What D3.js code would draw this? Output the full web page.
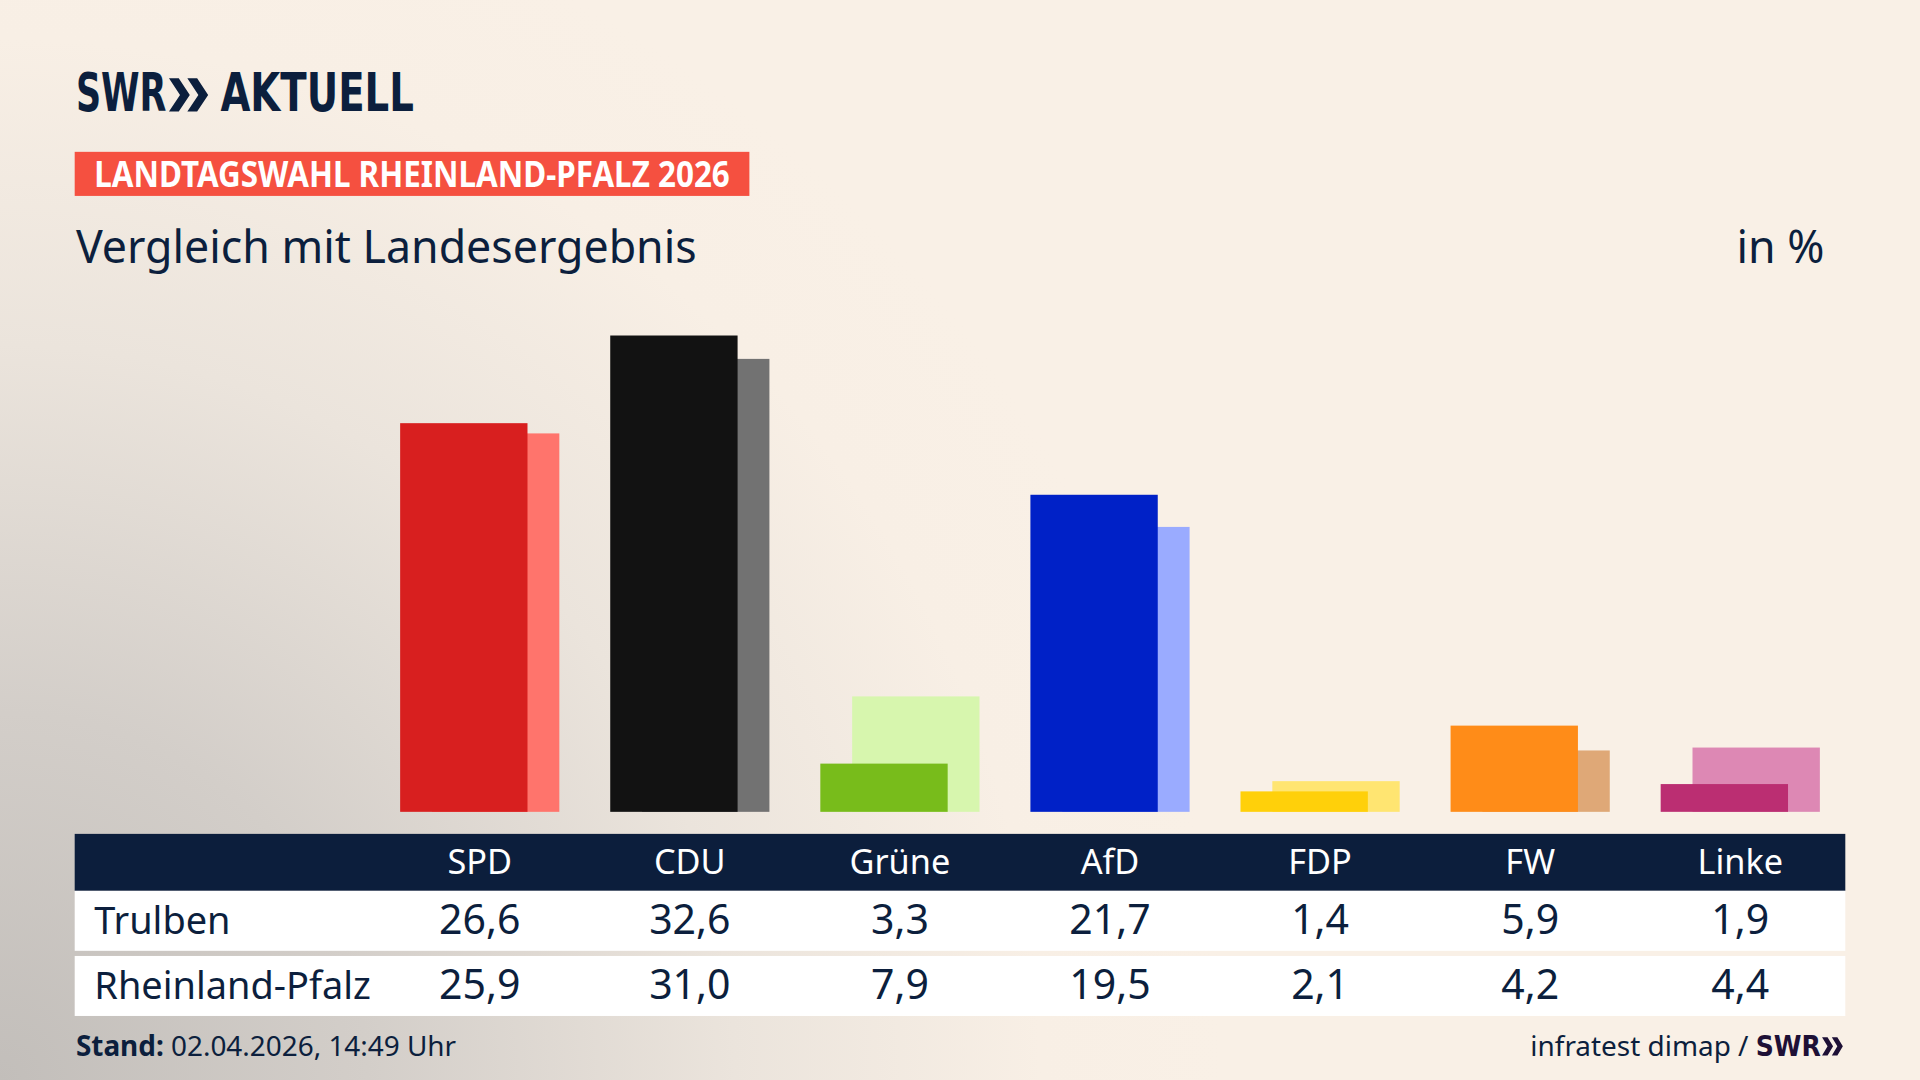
<!DOCTYPE html>
<html>
<head>
<meta charset="utf-8">
<script src="https://cdn.jsdelivr.net/npm/d3@7"></script>
<style>
  html, body { margin: 0; padding: 0; overflow: hidden; background: #f9f0e6; }
  svg { display: block; }
  text { white-space: pre; }
</style>
</head>
<body>
<div id="chart"></div>
<script>
// ---- data ----
const parties = ["SPD", "CDU", "Grüne", "AfD", "FDP", "FW", "Linke"];
const trulben = [26.6, 32.6, 3.3, 21.7, 1.4, 5.9, 1.9];
const landesergebnis = [25.9, 31.0, 7.9, 19.5, 2.1, 4.2, 4.4];
const rowLabels = ["Trulben", "Rheinland-Pfalz"];
const primaryColors = ["#d81f1f", "#121212", "#78bc1b", "#0021c7", "#ffd00a", "#ff8c18", "#bb2e72"];
const secondaryColors = ["#ff746c", "#727272", "#d7f6ae", "#9aabff", "#ffe571", "#dfa877", "#dd88b4"];

const title = "LANDTAGSWAHL RHEINLAND-PFALZ 2026";
const subtitle = "Vergleich mit Landesergebnis";
const unitLabel = "in %";
const standLabel = "Stand:";
const standValue = " 02.04.2026, 14:49 Uhr";
const sourceLabel = "infratest dimap / ";

// ---- setup ----
const W = 1568, H = 882;
const navy = "#0c1f3d";
const fontMain = "'Noto Sans', 'Open Sans', sans-serif";
const fontLogo = "'Liberation Sans Narrow', 'DejaVu Sans Condensed', 'Liberation Sans', sans-serif";

const svg = d3.select("#chart").append("svg")
  .attr("width", 1920).attr("height", 1080)
  .attr("viewBox", `0 0 ${W} ${H}`);

const defs = svg.append("defs");
const grad = defs.append("radialGradient")
  .attr("id", "bg").attr("gradientUnits", "userSpaceOnUse")
  .attr("cx", 0).attr("cy", H).attr("r", 1000);
[[0, "#c2beba"], [0.3, "#d3cec9"], [0.6, "#ebe4dc"], [0.85, "#f8efe5"], [1, "#f9f0e6"]]
  .forEach(([o, c]) => grad.append("stop").attr("offset", o).attr("stop-color", c));

svg.append("rect").attr("width", W).attr("height", H).attr("fill", "url(#bg)");

// ---- logo ----
const logo = svg.append("g");
logo.append("text").attr("x", 62).attr("y", 91)
  .attr("font-family", fontLogo).attr("font-weight", 700).attr("font-size", 43)
  .attr("fill", navy).attr("textLength", 74).attr("lengthAdjust", "spacingAndGlyphs")
  .text("SWR");
function chevrons(g, x, top, bottom, w, t, gap, color) {
  const mid = (top + bottom) / 2;
  [0, 1].forEach(i => {
    const x0 = x + i * gap;
    g.append("path")
      .attr("d", `M${x0},${top} L${x0 + t},${top} L${x0 + w},${mid} L${x0 + t},${bottom} L${x0},${bottom} L${x0 + w - t},${mid} Z`)
      .attr("fill", color);
  });
}
chevrons(logo, 138, 64, 91, 17, 8, 15, navy);
logo.append("text").attr("x", 180).attr("y", 91)
  .attr("font-family", fontLogo).attr("font-weight", 700).attr("font-size", 43)
  .attr("fill", navy).attr("textLength", 158).attr("lengthAdjust", "spacingAndGlyphs")
  .text("AKTUELL");

// ---- title label ----
svg.append("rect").attr("x", 61).attr("y", 124).attr("width", 551).attr("height", 36).attr("fill", "#f55040");
svg.append("text").attr("x", 77).attr("y", 152.5)
  .attr("font-family", fontMain).attr("font-weight", 700).attr("font-size", 28.5)
  .attr("fill", "#ffffff").attr("textLength", 519).attr("lengthAdjust", "spacingAndGlyphs")
  .text(title);

// ---- subtitle ----
svg.append("text").attr("x", 62).attr("y", 215)
  .attr("font-family", fontMain).attr("font-size", 36.5).attr("fill", navy)
  .text(subtitle);
svg.append("text").attr("x", 1490).attr("y", 215).attr("text-anchor", "end")
  .attr("font-family", fontMain).attr("font-size", 36.5).attr("fill", navy)
  .text(unitLabel);

// ---- scales ----
const x = d3.scaleBand().domain(parties).range([306, 1507]).padding(0);
const y = d3.scaleLinear().domain([0, 32.6]).range([663, 274]);
const cx = p => x(p) + x.bandwidth() / 2;
const barW = 104, offset = 26;

const data = parties.map((p, i) => ({ p, a: trulben[i], b: landesergebnis[i], ca: primaryColors[i], cb: secondaryColors[i] }));

const bars = svg.append("g");
bars.selectAll("rect.sec").data(data).join("rect").attr("class", "sec")
  .attr("x", d => cx(d.p) - barW / 2 + offset / 2)
  .attr("y", d => y(d.b)).attr("width", barW).attr("height", d => y(0) - y(d.b))
  .attr("fill", d => d.cb);
bars.selectAll("rect.pri").data(data).join("rect").attr("class", "pri")
  .attr("x", d => cx(d.p) - barW / 2 - offset / 2)
  .attr("y", d => y(d.a)).attr("width", barW).attr("height", d => y(0) - y(d.a))
  .attr("fill", d => d.ca);

// ---- table ----
const loc = d3.formatLocale({ decimal: ",", thousands: ".", grouping: [3], currency: ["", " €"] });
const fmt = loc.format(".1f");

const tbl = svg.append("g");
tbl.append("rect").attr("x", 61).attr("y", 681).attr("width", 1446).attr("height", 46.5).attr("fill", "#0c1e3c");
tbl.selectAll("text.hdr").data(parties).join("text").attr("class", "hdr")
  .attr("x", d => cx(d)).attr("y", 714).attr("text-anchor", "middle")
  .attr("font-family", fontMain).attr("font-size", 28).attr("fill", "#ffffff")
  .text(d => d);

const rows = [
  { label: rowLabels[0], vals: trulben, top: 727.5, h: 49, base: 763 },
  { label: rowLabels[1], vals: landesergebnis, top: 780.7, h: 49, base: 816 }
];
rows.forEach(r => {
  tbl.append("rect").attr("x", 61).attr("y", r.top).attr("width", 1446).attr("height", r.h).attr("fill", "#ffffff");
  tbl.append("text").attr("x", 77).attr("y", r.base)
    .attr("font-family", fontMain).attr("font-size", 31).attr("fill", navy)
    .text(r.label);
  tbl.append("g").selectAll("text").data(parties).join("text")
    .attr("x", d => cx(d)).attr("y", r.base).attr("text-anchor", "middle")
    .attr("font-family", fontMain).attr("font-size", 33.5).attr("fill", navy)
    .text((d, i) => fmt(r.vals[i]));
});

// ---- footer ----
const foot = svg.append("text").attr("x", 62).attr("y", 862)
  .attr("font-family", fontMain).attr("font-size", 22.8).attr("fill", navy);
foot.append("tspan").attr("font-weight", 700).text(standLabel);
foot.append("tspan").text(standValue);

const src = svg.append("g");
chevrons(src, 1488, 847, 862, 9, 4.5, 8, "#1e1036");
const srcText = src.append("text").attr("x", 1487).attr("y", 862).attr("text-anchor", "end")
  .attr("font-family", fontMain).attr("font-size", 22.8).attr("fill", navy);
srcText.append("tspan").text(sourceLabel);
srcText.append("tspan").attr("font-family", fontLogo).attr("font-weight", 700)
  .attr("fill", "#1e1036").text("SWR");
</script>
</body>
</html>
